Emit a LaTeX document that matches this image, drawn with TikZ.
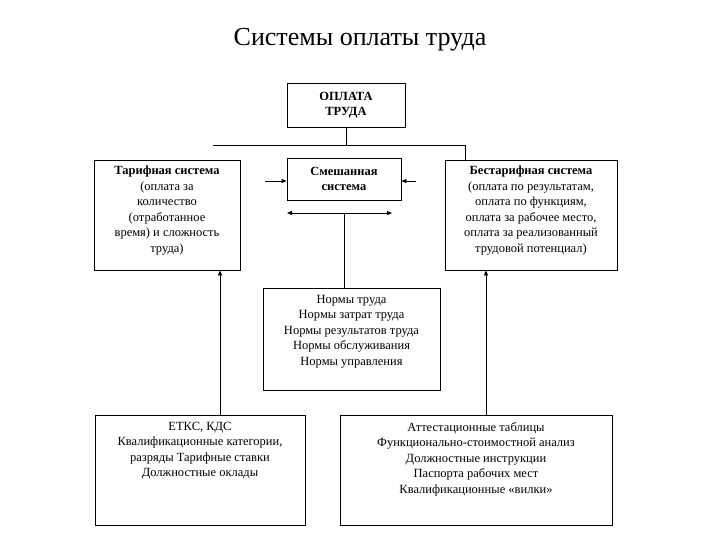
\documentclass[tikz,border=0pt]{standalone}
\usepackage{fontspec}
\setmainfont{Liberation Serif}
\usetikzlibrary{arrows.meta}
\begin{document}
\begin{tikzpicture}[x=1pt,y=-1pt,
  bx/.style={draw,line width=0.8pt,align=center,font=\fontsize{12.5}{15}\selectfont,inner sep=0pt},
  tx/.style={align=center,font=\fontsize{12.5}{15.5}\selectfont,inner sep=0pt,anchor=north},
  ln/.style={line width=0.8pt},
  ar/.style={line width=0.8pt,-{Triangle[length=5pt,width=4pt]}}]
\useasboundingbox (0,0) rectangle (720,540);
\node at (360,40) {\fontsize{26}{30}\selectfont Системы оплаты труда};
\node[bx,minimum width=118,minimum height=44] (top) at (346,105) {\textbf{ОПЛАТА}\\\textbf{ТРУДА}};
\node[bx,minimum width=146,minimum height=110] (left) at (167,215) {};
\node[tx] (leftt) at (167,166) {\textbf{Тарифная система}\\(оплата за\\количество\\(отработанное\\время) и сложность\\труда)};
\node[bx,minimum width=114,minimum height=42,anchor=north] (mid) at (344,158) {\textbf{Смешанная}\\\textbf{система}};
\node[bx,minimum width=172,minimum height=110] (right) at (531,215) {};
\node[tx] (rightt) at (531,166) {\textbf{Бестарифная система}\\(оплата по результатам,\\оплата по функциям,\\оплата за рабочее место,\\оплата за реализованный\\трудовой потенциал)};
\node[bx,minimum width=177,minimum height=102,anchor=north] (norm) at (351.5,288) {};
\node[tx] (normt) at (351.5,295) {Нормы труда\\Нормы затрат труда\\Нормы результатов труда\\Нормы обслуживания\\Нормы управления};
\node[bx,minimum width=210,minimum height=110] (bl) at (200,470) {};
\node[tx] (blt) at (200,422) {ЕТКС, КДС\\Квалификационные категории,\\разряды Тарифные ставки\\Должностные оклады};
\node[bx,minimum width=272,minimum height=110] (br) at (476,470) {};
\node[tx] (brt) at (476,422) {Аттестационные таблицы\\Функционально-стоимостной анализ\\Должностные инструкции\\Паспорта рабочих мест\\Квалификационные «вилки»};
\coordinate (hl) at (213,145);
\coordinate (hr) at (465,145);
\draw[ln] (top.south) -- (top.south |- hl);
\draw[ln] (hl) -- (hr) -- (hr |- right.north);
\draw[ar] (265,181) -- (mid.west |- 0,181);
\draw[ar] (416,181) -- (mid.east |- 0,181);
\coordinate (dl) at (287,213);
\coordinate (dr) at (392,213);
\draw[line width=0.8pt,{Triangle[length=5pt,width=4pt]}-{Triangle[length=5pt,width=4pt]}] (dl) -- (dr);
\draw[ln] (344,213) -- (344 ,288);
\draw[ar] (bl.north -| 220,0) -- (left.south -| 220,0);
\draw[ar] (br.north -| 486,0) -- (right.south -| 486,0);
\end{tikzpicture}
\end{document}
